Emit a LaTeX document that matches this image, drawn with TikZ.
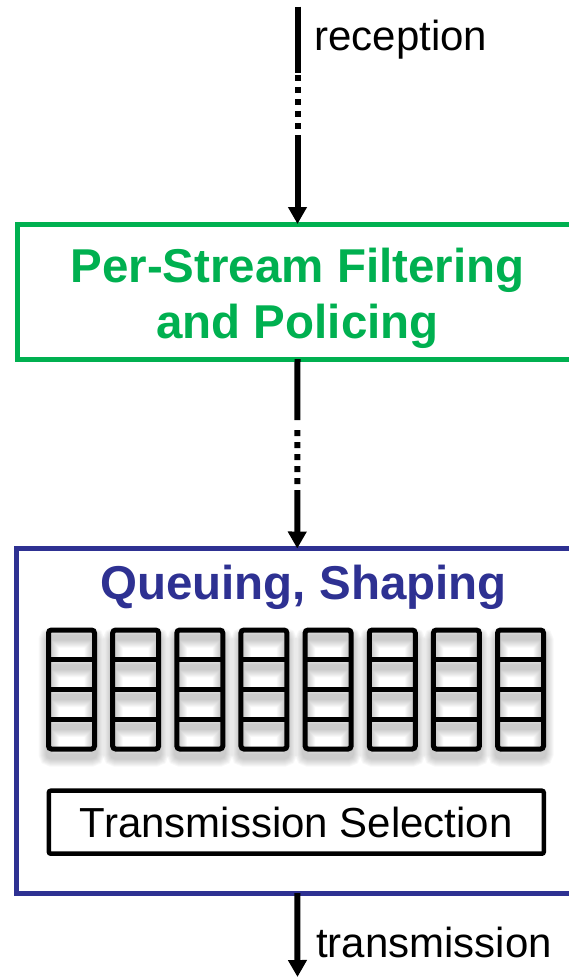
\documentclass[tikz,border=0pt]{standalone}
\usepackage{fontspec}
\setmainfont{Liberation Sans}
\usetikzlibrary{arrows.meta}
\definecolor{psgreen}{HTML}{00B050}
\definecolor{qsblue}{HTML}{2E3192}

\begin{document}
\begin{tikzpicture}[x=1pt, y=-1pt,
  every node/.style={inner sep=0pt, outer sep=0pt},
  boxframe/.style={draw, line width=5pt, minimum width=561pt},
  arrowline/.style={line width=6pt, -{Triangle[width=18pt,length=17pt]}},
  qcol/.style={draw, line width=5pt, rounded corners=3pt, minimum width=46pt, minimum height=119pt},
  bodytext/.style={font=\fontsize{42}{48}\selectfont},
  headtext/.style={font=\fontsize{47.5}{56}\selectfont\bfseries, align=center},
]
\useasboundingbox (0,0) rectangle (568,977);

% end points of the stream
\coordinate (rx) at (297.5,6.5);
\coordinate (tx) at (297.5,977);

% the two processing stages
\node[boxframe, draw=psgreen, minimum height=135pt] (psfp) at (297.5,291.5) {};
\node[headtext, text=psgreen, anchor=base] (psfptxt) at (297.5,338) {Per-Stream Filtering\\and Policing};

\node[boxframe, draw=qsblue, minimum height=344.5pt] (qs) at (297.25,720.75) {};
\node[headtext, text=qsblue, anchor=base] (qstxt) at (303.5,599) {Queuing, Shaping};

% eight queues with soft shadows
\foreach \i in {0,...,7} {
  \pgfmathsetmacro\cx{71.5+64.15*\i}
  \foreach \k in {1,...,8} {
    \pgfmathsetmacro\lw{4+2*\k}
    \draw[black, opacity=0.026, line width=\lw pt, rounded corners=3pt]
      (\cx-23,637.5) rectangle (\cx+23,756.5)
      (\cx-23,667.25) -- (\cx+23,667.25)
      (\cx-23,697) -- (\cx+23,697)
      (\cx-23,726.75) -- (\cx+23,726.75);
  }
  \node[qcol] (q\i) at (\cx,689.5) {};
  \draw[line width=5pt]
    (\cx-23,659.75) -- (\cx+23,659.75)
    (\cx-23,689.5) -- (\cx+23,689.5)
    (\cx-23,719.25) -- (\cx+23,719.25);
}

\node[draw, line width=4.5pt, rounded corners=2pt, minimum width=495pt, minimum height=63pt, bodytext]
  (tsel) at (296.3,822.2) {Transmission Selection};

% connectors
\draw[arrowline, dash pattern=on 66pt off 2.5pt on 6pt off 6pt on 6pt off 6pt on 6pt off 6pt on 6pt off 6pt on 6pt off 6pt on 400pt]
  (rx) -- (psfp.north);
\draw[arrowline, dash pattern=on 61pt off 10pt on 6pt off 6pt on 6pt off 6pt on 6pt off 6pt on 6pt off 6pt on 6pt off 6pt on 400pt]
  (psfp.south) -- (qs.north);
\draw[arrowline] (qs.south) -- (tx);

\node[bodytext, anchor=base west] (rxlbl) at (314.5,50) {reception};
\node[bodytext, anchor=base west] (txlbl) at (316,957) {transmission};
\end{tikzpicture}
\end{document}
